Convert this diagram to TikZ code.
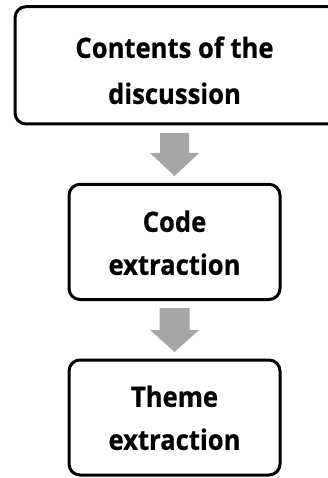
\documentclass[tikz,border=0pt]{standalone}
\usepackage{fontspec}
\setmainfont{Open Sans}[FakeStretch=0.915, BoldFeatures={FakeBold=0.6}]
\definecolor{arrowgray}{RGB}{166,166,166}
\tikzset{
  stagebox/.style={draw=black, line width=3pt, rounded corners=11pt, fill=white,
    inner sep=0pt, outer sep=0pt},
  stagelabel/.style={font=\bfseries\fontsize{28}{43}\selectfont, align=center,
    inner sep=0pt, outer sep=0pt},
  flowarrow/.style={fill=arrowgray, draw=none},
}
\begin{document}
\begin{tikzpicture}[x=1pt,y=-1pt]
\useasboundingbox (0,0) rectangle (328,478);
\clip (0,0) rectangle (328,478);

% three stages
\node[stagebox, minimum width=325pt, minimum height=117.3pt] (contents) at (177.5,65.35) {};
\node[stagebox, minimum width=211pt, minimum height=115.2pt] (code) at (174.5,241.9) {};
\node[stagebox, minimum width=211pt, minimum height=115pt] (theme) at (174.5,417.5) {};

\node[stagelabel, font=\bfseries\fontsize{28}{46}\selectfont] (contentslbl) at (174.5,70.3) {Contents of the\\discussion};
\node[stagelabel] (codelbl) at (174.5,242.8) {Code\\extraction};
\node[stagelabel] (themelbl) at (174.5,417.8) {Theme\\extraction};

% block arrows between the stages
\fill[flowarrow] (160,133) -- (189,133) -- (189,153) -- (199,153) -- (174.5,176)
  -- (150,153) -- (160,153) -- cycle;
\fill[flowarrow] (159.5,308) -- (189.5,308) -- (189.5,330) -- (199,330) -- (174.5,352)
  -- (150,330) -- (159.5,330) -- cycle;
\end{tikzpicture}
\end{document}
